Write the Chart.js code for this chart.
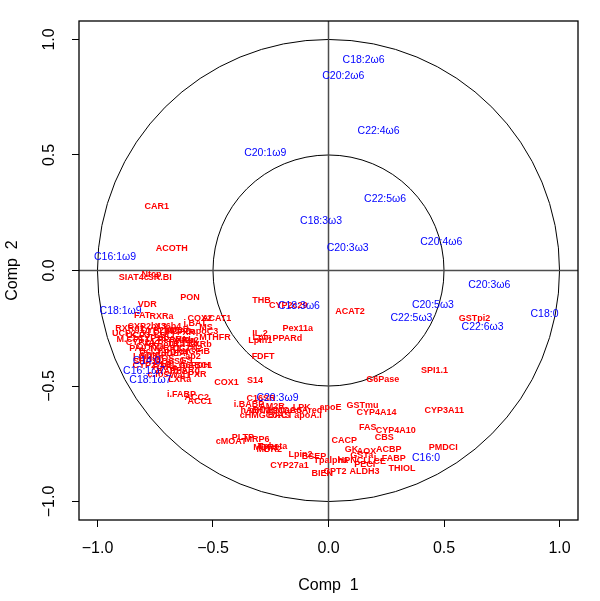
<!DOCTYPE html>
<html>
<head>
<meta charset="utf-8">
<script src="https://cdn.jsdelivr.net/npm/chart.js@4.4.1/dist/chart.umd.min.js"></script>
<style>
  body { margin: 0; background: #fff; }
</style>
</head>
<body>
<canvas id="myChart" width="600" height="601"></canvas>
<script>
// genes (red, bold)
const geneNames = [
  "CAR1", "ACOTH", "SIAT4c", "SR.BI", "Ntcp", "VDR", "PON", "THB", "CYP2c29", "ACAT2",
  "GSTpi2", "SPI1.1", "G6Pase", "Pex11a", "PPARd", "IL.2", "Lpin1", "Lpin", "FDFT", "S14",
  "COX1", "i.FABP", "ACC2", "ACC1", "LXRa", "G6PDH", "PXR", "LPL", "MTHFR", "apoC3",
  "i.BAT", "COX2", "ACAT1", "RXRa", "FAT", "MCAD", "RXRb2", "OCTN2", "NURR1", "CIDEA",
  "C16SR", "i.BABP", "AM2R", "LPK", "apoE", "GSTmu", "CYP4A14", "cHMGCoAS", "BACT", "apoA.I",
  "HMGCoAred", "hABC1", "mHMGCoAS", "PLTP", "MRP6", "cMOAT", "Tpbeta", "MDR2", "MDR1", "Lpin2",
  "BSEP", "CYP27a1", "Tpalpha", "BIEN", "CPT2", "ALDH3", "CACP", "GK", "AOX", "GSTa",
  "HPNCL", "PECI", "L.FABP", "LCE", "ACBP", "CBS", "FAS", "CYP4A10", "CYP3A11", "PMDCI",
  "THIOL", "RXRg1", "CYP2b13", "CYP2b10", "X36b4", "UCP2", "UCP3", "CYP26", "CYP24", "CYP7a",
  "CYP8b1", "PPARa", "LDLr", "TRa", "TRb", "ADISP", "i.NOS", "ADSS1", "Bcl.3", "PDK4",
  "RARa", "RARb2", "c.fos", "Waf1", "PPARg", "GS", "ap2", "apoB", "FXR", "SHP1",
  "M.CPT1", "NGFiB", "LXRb", "MS", "PAL", "VLDLr", "eif2g", "mABC1", "CYP27b1", "Lpin3"
];
const geneX = [
  -0.743, -0.679, -0.843, -0.730, -0.766, -0.785, -0.599, -0.290, -0.174, 0.093,
  0.632, 0.459, 0.235, -0.133, -0.178, -0.297, -0.295, -0.288, -0.283, -0.318,
  -0.442, -0.636, -0.570, -0.557, -0.644, -0.581, -0.568, -0.692, -0.491, -0.537,
  -0.578, -0.557, -0.484, -0.723, -0.807, -0.649, -0.626, -0.611, -0.705, -0.680,
  -0.292, -0.344, -0.245, -0.116, 0.009, 0.147, 0.208, -0.275, -0.209, -0.089,
  -0.143, -0.316, -0.229, -0.371, -0.310, -0.421, -0.242, -0.256, -0.271, -0.121,
  -0.063, -0.169, 0.010, -0.027, 0.028, 0.156, 0.068, 0.100, 0.165, 0.144,
  0.107, 0.157, 0.265, 0.210, 0.261, 0.241, 0.170, 0.291, 0.501, 0.497,
  0.318, -0.859, -0.786, -0.729, -0.695, -0.885, -0.825, -0.764, -0.816, -0.773,
  -0.721, -0.677, -0.708, -0.660, -0.600, -0.760, -0.721, -0.686, -0.773, -0.660,
  -0.708, -0.677, -0.738, -0.643, -0.621, -0.617, -0.587, -0.652, -0.617, -0.794,
  -0.846, -0.574, -0.556, -0.530, -0.825, -0.751, -0.621, -0.574, -0.764, -0.794
];
const geneY = [
  0.277, 0.095, -0.029, -0.029, -0.016, -0.147, -0.115, -0.129, -0.153, -0.178,
  -0.207, -0.433, -0.472, -0.250, -0.296, -0.273, -0.305, -0.292, -0.371, -0.477,
  -0.486, -0.537, -0.550, -0.569, -0.471, -0.411, -0.451, -0.408, -0.292, -0.263,
  -0.228, -0.210, -0.210, -0.198, -0.193, -0.263, -0.303, -0.336, -0.339, -0.361,
  -0.555, -0.582, -0.587, -0.591, -0.591, -0.586, -0.615, -0.627, -0.627, -0.629,
  -0.607, -0.605, -0.605, -0.724, -0.730, -0.741, -0.760, -0.773, -0.765, -0.796,
  -0.806, -0.842, -0.821, -0.878, -0.868, -0.871, -0.734, -0.773, -0.782, -0.802,
  -0.822, -0.839, -0.813, -0.828, -0.773, -0.724, -0.681, -0.694, -0.606, -0.766,
  -0.856, -0.253, -0.244, -0.261, -0.244, -0.274, -0.283, -0.296, -0.313, -0.331,
  -0.318, -0.300, -0.283, -0.322, -0.318, -0.370, -0.379, -0.392, -0.349, -0.353,
  -0.418, -0.439, -0.452, -0.456, -0.435, -0.391, -0.374, -0.257, -0.270, -0.392,
  -0.300, -0.352, -0.322, -0.248, -0.339, -0.270, -0.304, -0.413, -0.413, -0.371
];

// fatty acids (blue)
const lipidNames = [
  "C18:2ω6", "C20:2ω6", "C22:4ω6", "C20:1ω9", "C22:5ω6", "C18:3ω3", "C20:3ω3",
  "C20:4ω6", "C16:1ω9", "C20:3ω6", "C20:5ω3", "C22:5ω3", "C18:0", "C22:6ω3",
  "C18:1ω9", "C14:0", "C16:1ω7", "C18:1ω7", "C16:0", "C20:3ω9", "C18:3ω6"
];
const lipidX = [
  0.152, 0.064, 0.217, -0.274, 0.245, -0.032, 0.083,
  0.488, -0.924, 0.696, 0.452, 0.359, 0.935, 0.667,
  -0.900, -0.787, -0.798, -0.771, 0.422, -0.221, -0.128
];
const lipidY = [
  0.909, 0.843, 0.602, 0.507, 0.310, 0.212, 0.099,
  0.123, 0.057, -0.062, -0.150, -0.204, -0.188, -0.246,
  -0.174, -0.391, -0.434, -0.474, -0.810, -0.552, -0.153
];

const tickValues = [-1, -0.5, 0, 0.5, 1];
const circleRadii = [1, 0.5];
const axisLimit = 1.08;

const FONT = '"Liberation Sans", Arial, Helvetica, sans-serif';

function toPoints(xs, ys) {
  return xs.map((x, i) => ({ x, y: ys[i] }));
}

function fmtTick(v) {
  return (v < 0 ? "\u2212" : "") + Math.abs(v).toFixed(1);
}

const circlePlugin = {
  id: "circlePlugin",
  beforeDatasetsDraw(chart) {
    const { ctx, chartArea: a, scales: { x, y } } = chart;
    const cx = x.getPixelForValue(0);
    const cy = y.getPixelForValue(0);
    ctx.save();
    ctx.strokeStyle = "#000";
    ctx.lineWidth = 1;
    circleRadii.forEach((r) => {
      const rp = x.getPixelForValue(r) - cx;
      ctx.beginPath();
      ctx.arc(cx, cy, rp, 0, Math.PI * 2);
      ctx.stroke();
    });
    // abline(h = 0, v = 0)
    ctx.strokeStyle = "#4d4d4d";
    ctx.lineWidth = 1.5;
    ctx.beginPath();
    ctx.moveTo(a.left, cy);
    ctx.lineTo(a.right, cy);
    ctx.moveTo(cx, a.top);
    ctx.lineTo(cx, a.bottom);
    ctx.stroke();
    ctx.restore();
  },
  afterDatasetsDraw(chart) {
    const { ctx } = chart;
    ctx.save();
    ctx.textAlign = "center";
    ctx.textBaseline = "middle";
    chart.data.datasets.forEach((ds, di) => {
      const meta = chart.getDatasetMeta(di);
      ctx.fillStyle = ds.textColor;
      ctx.font = ds.textFont;
      meta.data.forEach((pt, i) => {
        ctx.fillText(ds.names[i], pt.x, pt.y);
      });
    });
    ctx.restore();
  },
  afterDraw(chart) {
    const { ctx, chartArea: a, scales: { x, y } } = chart;
    ctx.save();
    ctx.strokeStyle = "#000";
    ctx.lineWidth = 1.3;
    ctx.strokeRect(a.left, a.top, a.right - a.left, a.bottom - a.top);

    ctx.fillStyle = "#000";
    ctx.font = "16px " + FONT;
    ctx.textAlign = "center";
    ctx.textBaseline = "middle";
    tickValues.forEach((v) => {
      ctx.fillText(fmtTick(v), x.getPixelForValue(v), a.bottom + 29);
    });
    tickValues.forEach((v) => {
      ctx.save();
      ctx.translate(a.left - 29, y.getPixelForValue(v));
      ctx.rotate(-Math.PI / 2);
      ctx.fillText(fmtTick(v), 0, 0);
      ctx.restore();
    });
    // axis titles
    ctx.fillText("Comp  1", (a.left + a.right) / 2, a.bottom + 66);
    ctx.save();
    ctx.translate(a.left - 66, (a.top + a.bottom) / 2);
    ctx.rotate(-Math.PI / 2);
    ctx.fillText("Comp  2", 0, 0);
    ctx.restore();
    ctx.restore();
  },
};

function axisOptions(isX) {
  return {
    type: "linear",
    min: -axisLimit,
    max: axisLimit,
    afterBuildTicks: (s) => {
      s.ticks = tickValues.map((v) => ({ value: v }));
    },
    afterFit: (s) => {
      if (isX) s.height = 81;
      else s.width = 79;
    },
    ticks: { display: false },
    border: { display: false },
    grid: {
      drawOnChartArea: false,
      drawTicks: true,
      tickLength: 7,
      color: "#000",
      lineWidth: 1,
    },
  };
}

new Chart(document.getElementById("myChart").getContext("2d"), {
  type: "scatter",
  data: {
    datasets: [
      {
        label: "genes",
        data: toPoints(geneX, geneY),
        names: geneNames,
        textColor: "#ff0000",
        textFont: "bold 9px " + FONT,
        pointRadius: 0,
      },
      {
        label: "lipids",
        data: toPoints(lipidX, lipidY),
        names: lipidNames,
        textColor: "#0000ff",
        textFont: "10.5px " + FONT,
        pointRadius: 0,
      },
    ],
  },
  options: {
    responsive: false,
    animation: false,
    layout: { padding: { left: 0, top: 21, right: 22, bottom: 0 } },
    plugins: { legend: { display: false }, tooltip: { enabled: false } },
    scales: { x: axisOptions(true), y: axisOptions(false) },
  },
  plugins: [circlePlugin],
});
</script>
</body>
</html>
